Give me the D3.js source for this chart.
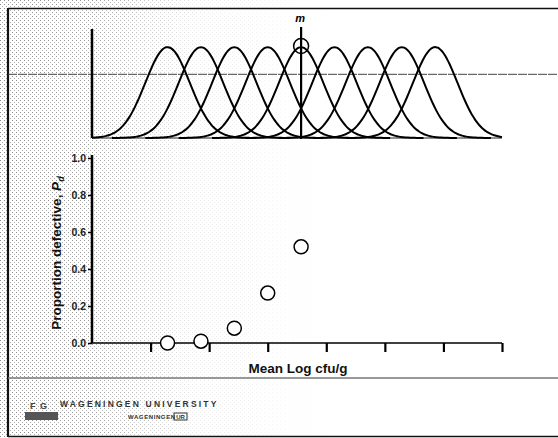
<!DOCTYPE html>
<html>
<head>
<meta charset="utf-8">
<script src="https://cdn.jsdelivr.net/npm/d3@7"></script>
<style>
  html, body { margin: 0; padding: 0; background: #fff; }
  svg { display: block; }
  text { font-family: "Liberation Sans", Arial, sans-serif; }
</style>
</head>
<body>
<svg id="chart" width="558" height="438"></svg>
<script>
// Means (log cfu/g) of the sampled lots drawn as normal curves in the top panel
const lotMeans = [1.29, 1.86, 2.43, 3.0, 3.57, 4.14, 4.71, 5.29, 5.86];
// Standard deviation of each lot's distribution (log cfu/g)
const lotSd = 0.38;
// Microbiological limit m (log cfu/g) and the horizontal reference level in the top panel
const limitM = 3.57;
const refLevel = 0.70;
// Proportion defective for the first five lots
const pointMeans = [1.29, 1.86, 2.43, 3.0, 3.57];
const proportionDefective = [0.0, 0.01, 0.08, 0.27, 0.52];
// Axis ticks
const xTicks = [1, 2, 3, 4, 5, 6, 7];
const yTicks = [0.0, 0.2, 0.4, 0.6, 0.8, 1.0];

const svg = d3.select("#chart");

// ---- background: halftone-like grey wash fading to white on the right ----
const defs = svg.append("defs");
const pat = defs.append("pattern").attr("id", "dots")
  .attr("width", 4).attr("height", 4).attr("patternUnits", "userSpaceOnUse");
pat.append("rect").attr("width", 4).attr("height", 4).attr("fill", "#fff");
pat.append("rect").attr("x", 0).attr("y", 0).attr("width", 1).attr("height", 1).attr("fill", "#8a8a8a");
pat.append("rect").attr("x", 2).attr("y", 2).attr("width", 1).attr("height", 1).attr("fill", "#a8a8a8");

const grad = defs.append("linearGradient").attr("id", "fade")
  .attr("x1", 0).attr("x2", 1).attr("y1", 0).attr("y2", 0);
grad.append("stop").attr("offset", "0%").attr("stop-color", "#fff").attr("stop-opacity", 1);
grad.append("stop").attr("offset", "16%").attr("stop-color", "#fff").attr("stop-opacity", 0.85);
grad.append("stop").attr("offset", "35%").attr("stop-color", "#fff").attr("stop-opacity", 0.2);
grad.append("stop").attr("offset", "60%").attr("stop-color", "#fff").attr("stop-opacity", 0);
const mask = defs.append("mask").attr("id", "fadeMask");
mask.append("rect").attr("width", 558).attr("height", 438).attr("fill", "url(#fade)");

svg.append("rect").attr("width", 558).attr("height", 438).attr("fill", "#fff");
svg.append("rect").attr("width", 558).attr("height", 438)
  .attr("fill", "url(#dots)").attr("mask", "url(#fadeMask)");

// ---- slide frame ----
const frame = svg.append("g").attr("stroke", "#111").attr("fill", "none");
frame.append("line").attr("x1", 8).attr("x2", 8).attr("y1", 8).attr("y2", 437).attr("stroke-width", 2.2);
frame.append("line").attr("x1", 8).attr("x2", 558).attr("y1", 8.5).attr("y2", 8.5).attr("stroke-width", 1.5);
frame.append("line").attr("x1", 8).attr("x2", 558).attr("y1", 378).attr("y2", 378)
  .attr("stroke", "#777").attr("stroke-width", 1.5);
frame.append("line").attr("x1", 8).attr("x2", 558).attr("y1", 436.5).attr("y2", 436.5).attr("stroke-width", 1.5);

// ---- shared x scale (log cfu/g) ----
const x = d3.scaleLinear().domain([0, 7]).range([92, 502]);

// ---- top panel: lot distributions ----
const yTop = d3.scaleLinear().domain([0, 1]).range([138, 47]);
const upper = svg.append("g");

upper.append("line")
  .attr("x1", 8).attr("x2", 558)
  .attr("y1", yTop(refLevel)).attr("y2", yTop(refLevel))
  .attr("stroke", "#444").attr("stroke-width", 1).attr("stroke-dasharray", "9,1");

upper.append("line")
  .attr("x1", x(0)).attr("x2", x(7))
  .attr("y1", yTop(0)).attr("y2", yTop(0))
  .attr("stroke", "#222").attr("stroke-width", 1.2);

upper.append("line")
  .attr("x1", x(0)).attr("x2", x(0))
  .attr("y1", 29).attr("y2", yTop(0))
  .attr("stroke", "#000").attr("stroke-width", 2.5);

const density = (mu, v) => Math.exp(-0.5 * Math.pow((v - mu) / lotSd, 2));
const curve = d3.line().x(d => x(d[0])).y(d => yTop(d[1])).curve(d3.curveBasis);
lotMeans.forEach(mu => {
  const lo = Math.max(0, mu - 4 * lotSd), hi = Math.min(7, mu + 4 * lotSd);
  const pts = d3.range(lo, hi + 1e-9, (hi - lo) / 80).map(v => [v, density(mu, v)]);
  upper.append("path").attr("d", curve(pts))
    .attr("fill", "none").attr("stroke", "#000").attr("stroke-width", 2);
});

// limit m
upper.append("line")
  .attr("x1", x(limitM)).attr("x2", x(limitM))
  .attr("y1", 27).attr("y2", yTop(0) + 1)
  .attr("stroke", "#000").attr("stroke-width", 2.2);
upper.append("circle")
  .attr("cx", x(limitM)).attr("cy", yTop(1) - 1).attr("r", 7.5)
  .attr("fill", "none").attr("stroke", "#000").attr("stroke-width", 1.5);
upper.append("text")
  .attr("x", x(limitM) - 1).attr("y", 22)
  .attr("text-anchor", "middle")
  .attr("font-size", 11).attr("font-style", "italic").attr("font-weight", "bold")
  .attr("font-family", "Liberation Serif, serif")
  .text("m");

// ---- bottom panel: proportion defective ----
const yBot = d3.scaleLinear().domain([0, 1]).range([343, 158]);
const lower = svg.append("g");

const yAxis = lower.append("g")
  .attr("transform", `translate(${x(0)},0)`)
  .call(d3.axisLeft(yBot).tickValues(yTicks).tickFormat(d3.format(".1f")).tickSize(4).tickPadding(2));
yAxis.select(".domain").attr("d", `M0,155V${yBot(0)}`).attr("stroke-width", 2.5);
yAxis.selectAll(".tick line").attr("stroke-width", 1.5);
yAxis.selectAll(".tick text")
  .attr("font-size", 10.5).attr("font-weight", "bold")
  .attr("font-family", "Liberation Sans, Arial, sans-serif").attr("fill", "#222");

const xAxis = lower.append("g")
  .attr("transform", `translate(0,${yBot(0)})`)
  .call(d3.axisBottom(x).tickValues(xTicks).tickFormat("").tickSize(9));
xAxis.select(".domain").attr("d", `M${x(0)},0H${x(7)}`).attr("stroke-width", 1.5);
xAxis.selectAll(".tick line").attr("stroke-width", 2.2);

lower.selectAll("circle.pd")
  .data(pointMeans.map((m, i) => ({ m, p: proportionDefective[i] })))
  .join("circle").attr("class", "pd")
  .attr("cx", d => x(d.m)).attr("cy", d => yBot(d.p)).attr("r", 7)
  .attr("fill", "#fff").attr("stroke", "#000").attr("stroke-width", 1.5);

lower.append("text")
  .attr("x", 298).attr("y", 373)
  .attr("text-anchor", "middle")
  .attr("font-size", 13.5).attr("font-weight", "bold").attr("fill", "#111")
  .text("Mean Log cfu/g");

const yl = lower.append("text")
  .attr("transform", `translate(61,253) rotate(-90)`)
  .attr("text-anchor", "middle")
  .attr("font-size", 13.5).attr("font-weight", "bold").attr("fill", "#111");
yl.append("tspan").text("Proportion defective, ");
yl.append("tspan").attr("font-style", "italic").text("P");
yl.append("tspan").attr("font-style", "italic").attr("font-size", 9).attr("dy", 3).text("d");

// ---- footer: university name ----
const foot = svg.append("g");
const logo = foot.append("g").attr("fill", "#444");
logo.append("text").attr("x", 30).attr("y", 409).attr("font-size", 9).attr("font-weight", "bold")
  .attr("font-family", "Liberation Serif, serif").text("F");
logo.append("text").attr("x", 40).attr("y", 409).attr("font-size", 9).attr("font-weight", "bold")
  .attr("font-family", "Liberation Serif, serif").text("G");
logo.append("rect").attr("x", 25).attr("y", 412).attr("width", 33).attr("height", 8).attr("fill", "#555");
foot.append("text")
  .attr("x", 60).attr("y", 407)
  .attr("font-size", 8.5).attr("font-weight", "bold").attr("letter-spacing", 2.2)
  .attr("fill", "#333")
  .text("WAGENINGEN UNIVERSITY");
foot.append("text")
  .attr("x", 128).attr("y", 419)
  .attr("font-size", 6).attr("font-weight", "bold").attr("letter-spacing", 0.6)
  .attr("fill", "#333")
  .text("WAGENINGEN");
foot.append("rect").attr("x", 174).attr("y", 413).attr("width", 13).attr("height", 7)
  .attr("fill", "none").attr("stroke", "#333").attr("stroke-width", 1);
foot.append("text")
  .attr("x", 180.5).attr("y", 419).attr("text-anchor", "middle")
  .attr("font-size", 6).attr("font-weight", "bold").attr("fill", "#333")
  .text("UR");
</script>
</body>
</html>
